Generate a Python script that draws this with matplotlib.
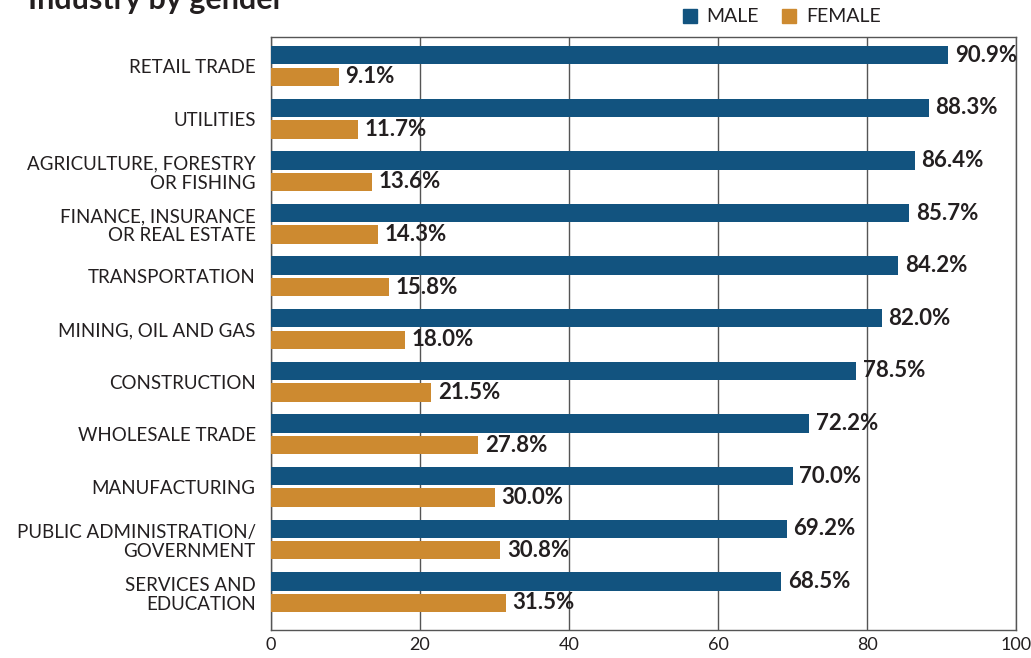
import matplotlib.pyplot as plt
import numpy as np

plt.rcParams["font.family"] = ["Lato", "DejaVu Sans"]

INDUSTRIES = [
    "RETAIL TRADE",
    "UTILITIES",
    "AGRICULTURE, FORESTRY\nOR FISHING",
    "FINANCE, INSURANCE\nOR REAL ESTATE",
    "TRANSPORTATION",
    "MINING, OIL AND GAS",
    "CONSTRUCTION",
    "WHOLESALE TRADE",
    "MANUFACTURING",
    "PUBLIC ADMINISTRATION/\nGOVERNMENT",
    "SERVICES AND\nEDUCATION",
]
MALE = [90.9, 88.3, 86.4, 85.7, 84.2, 82.0, 78.5, 72.2, 70.0, 69.2, 68.5]
FEMALE = [9.1, 11.7, 13.6, 14.3, 15.8, 18.0, 21.5, 27.8, 30.0, 30.8, 31.5]
X_TICKS = [0, 20, 40, 60, 80, 100]

BLUE = "#12537f"
ORANGE = "#cd8a30"
TEXT = "#231f20"

fig = plt.figure(figsize=(10.31, 6.58), dpi=100)
ax = fig.add_axes([271 / 1031, 1 - 630 / 658, 745 / 1031, 593 / 658])

y = np.arange(len(INDUSTRIES))
h = 0.35
off = 0.205
ax.barh(y - off, MALE, height=h, color=BLUE, zorder=3)
ax.barh(y + off, FEMALE, height=h, color=ORANGE, zorder=3)

for yi, m, f in zip(y, MALE, FEMALE):
    ax.text(m + 0.9, yi - off, f"{m:.1f}%", va="center", ha="left",
            fontsize=16, fontweight="bold", color=TEXT, zorder=4)
    ax.text(f + 0.9, yi + off, f"{f:.1f}%", va="center", ha="left",
            fontsize=16, fontweight="bold", color=TEXT, zorder=4)

ax.set_xlim(0, 100)
ax.set_ylim(10.72, -0.55)
ax.set_xticks(X_TICKS)
ax.set_xticklabels([str(t) for t in X_TICKS], fontsize=13, color=TEXT)
ax.set_yticks(y)
ax.set_yticklabels(INDUSTRIES, fontsize=13.5, color=TEXT, linespacing=1.15)
ax.tick_params(axis="x", length=0, pad=5)
ax.tick_params(axis="y", length=0, pad=11)
ax.grid(axis="x", color="#555555", linewidth=1.0, zorder=0)
for s in ax.spines.values():
    s.set_color("#555555")
    s.set_linewidth(1.0)

fig.text(28 / 1031, 1 - 0 / 658, "Industry by gender", fontsize=22, fontweight="bold",
         color=TEXT, ha="left", va="center")

# legend drawn by hand to sit above the plot box
fig.patches.append(plt.Rectangle((683 / 1031, 1 - 23 / 658), 14 / 1031, 14 / 658,
                                 transform=fig.transFigure, color=BLUE))
fig.text(706 / 1031, 1 - 16 / 658, "MALE", fontsize=14, color=TEXT, va="center")
fig.patches.append(plt.Rectangle((782 / 1031, 1 - 23 / 658), 14 / 1031, 14 / 658,
                                 transform=fig.transFigure, color=ORANGE))
fig.text(806 / 1031, 1 - 16 / 658, "FEMALE", fontsize=14, color=TEXT, va="center")

fig.savefig("out.png", dpi=100)
